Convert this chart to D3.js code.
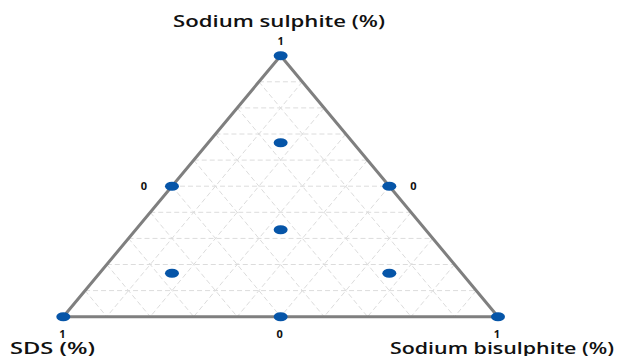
<!DOCTYPE html>
<html>
<head>
  <meta charset="utf-8">
  <title>Ternary design</title>
  <script src="https://cdn.jsdelivr.net/npm/d3@7"></script>
  <style>
    body { margin: 0; background: #fff; }
    text { font-family: "Open Sans", "Noto Sans", sans-serif; }
  </style>
</head>
<body>
  <script>
    // size of the page
    const w = 622;
    const h = 356;

    // design points (fractions of each component)
    const sulphite   = [1, 0, 0, 0.5, 0.5, 0,   1/3, 2/3, 1/6, 1/6];
    const sds        = [0, 1, 0, 0.5, 0,   0.5, 1/3, 1/6, 2/3, 1/6];
    const bisulphite = [0, 0, 1, 0,   0.5, 0.5, 1/3, 1/6, 1/6, 2/3];

    // corner / edge labels as printed
    const cornerLabels = [
      { text: "1", a: 1,   b: 0,   c: 0 },
      { text: "1", a: 0,   b: 1,   c: 0 },
      { text: "1", a: 0,   b: 0,   c: 1 },
      { text: "0", a: 0.5, b: 0.5, c: 0 },
      { text: "0", a: 0.5, b: 0,   c: 0.5 },
      { text: "0", a: 0,   b: 0.5, c: 0.5 }
    ];
    const axisTitles = ["Sodium sulphite (%)", "SDS (%)", "Sodium bisulphite (%)"];

    // grid steps
    const gridSteps = d3.range(1, 10).map(i => i / 10);

    const points = sulphite.map((a, i) => ({ a: a, b: sds[i], c: bisulphite[i] }));

    // scales: horizontal along base, vertical for the top component
    const xScale = d3.scaleLinear().domain([0, 1]).range([63.3, 498]);
    const yScale = d3.scaleLinear().domain([0, 1]).range([316.7, 55.7]);
    const px = d => xScale(d.c + d.a / 2);
    const py = d => yScale(d.a);

    const svg = d3.select("body")
      .append("svg")
      .attr("width", w)
      .attr("height", h);

    // grid lines parallel to each side
    const gridLines = [];
    gridSteps.forEach(k => {
      gridLines.push([{ a: k, b: 1 - k, c: 0 }, { a: k, b: 0, c: 1 - k }]);
      gridLines.push([{ a: 1 - k, b: k, c: 0 }, { a: 0, b: k, c: 1 - k }]);
      gridLines.push([{ a: 1 - k, b: 0, c: k }, { a: 0, b: 1 - k, c: k }]);
    });

    svg.selectAll("line.grid")
      .data(gridLines)
      .enter()
      .append("line")
      .attr("class", "grid")
      .attr("x1", d => px(d[0]))
      .attr("y1", d => py(d[0]))
      .attr("x2", d => px(d[1]))
      .attr("y2", d => py(d[1]))
      .attr("stroke", "#dcdcdc")
      .attr("stroke-width", 1)
      .attr("stroke-dasharray", "5,3");

    // outline of the triangle
    const corners = [{ a: 1, b: 0, c: 0 }, { a: 0, b: 0, c: 1 }, { a: 0, b: 1, c: 0 }];
    svg.append("path")
      .attr("d", d3.line().x(px).y(py).curve(d3.curveLinearClosed)(corners))
      .attr("fill", "none")
      .attr("stroke", "#7f7f7f")
      .attr("stroke-width", 3)
      .attr("stroke-linejoin", "round");

    // design points
    svg.selectAll("ellipse")
      .data(points)
      .enter()
      .append("ellipse")
      .attr("cx", px)
      .attr("cy", py)
      .attr("rx", 7)
      .attr("ry", 4.5)
      .attr("fill", "#0655a8");

    // 0 / 1 labels
    const labelOffset = d => {
      if (d.a === 1) return [0, -11];
      if (d.b === 0.5 && d.c === 0) return [-28, 4];
      if (d.c === 0.5 && d.b === 0) return [24, 4];
      return [-1, 21];
    };
    svg.selectAll("text.tick")
      .data(cornerLabels)
      .enter()
      .append("text")
      .attr("class", "tick")
      .attr("x", d => px(d) + labelOffset(d)[0])
      .attr("y", d => py(d) + labelOffset(d)[1])
      .attr("text-anchor", "middle")
      .attr("font-size", 11)
      .attr("font-weight", 700)
      .attr("fill", "#111")
      .text(d => d.text);

    // axis titles
    const titlePos = [
      { x: 173, y: 27, len: 212 },
      { x: 10, y: 354, len: 85 },
      { x: 390, y: 354, len: 224 }
    ];
    svg.selectAll("text.title")
      .data(axisTitles)
      .enter()
      .append("text")
      .attr("class", "title")
      .attr("x", (d, i) => titlePos[i].x)
      .attr("y", (d, i) => titlePos[i].y)
      .attr("textLength", (d, i) => titlePos[i].len)
      .attr("lengthAdjust", "spacingAndGlyphs")
      .attr("font-size", 17)
      .attr("font-weight", 600)
      .attr("fill", "#111")
      .text(d => d);
  </script>
</body>
</html>
